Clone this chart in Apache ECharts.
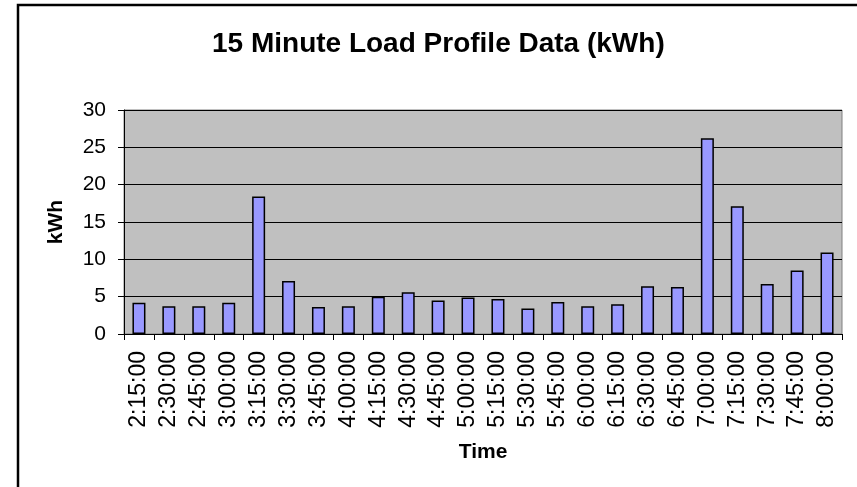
<!DOCTYPE html>
<html>
<head>
<meta charset="utf-8">
<script src="https://cdn.jsdelivr.net/npm/echarts@6/dist/echarts.min.js"></script>
<style>html,body{margin:0;padding:0;background:#fff}#c{width:857px;height:487px}</style>
</head>
<body>
<div id="c"></div>
<script>
const titleText = '15 Minute Load Profile Data (kWh)';
const yAxisName = 'kWh';
const xAxisName = 'Time';
const categories = ['2:15:00','2:30:00','2:45:00','3:00:00','3:15:00','3:30:00','3:45:00','4:00:00','4:15:00','4:30:00','4:45:00','5:00:00','5:15:00','5:30:00','5:45:00','6:00:00','6:15:00','6:30:00','6:45:00','7:00:00','7:15:00','7:30:00','7:45:00','8:00:00'];
const loadValues = [4.2,3.7,3.7,4.2,18.4,7.1,3.6,3.7,5.0,5.6,4.5,4.9,4.7,3.4,4.3,3.7,4.0,6.4,6.3,26.2,17.1,6.7,8.5,10.9];
const yMin = 0, yMax = 30, yStep = 5;

const chart = echarts.init(document.getElementById('c'), null, {renderer:'canvas'});
const font = 'Liberation Sans, Arial, Helvetica, sans-serif';
chart.setOption({
  backgroundColor: '#ffffff',
  animation: false,
  textStyle: {fontFamily: font},
  title: {
    text: titleText,
    left: 212, top: 30, padding: 0,
    textStyle: {fontFamily: font, fontSize: 28, fontWeight: 'bold', color: '#000'}
  },
  graphic: [{
    type: 'rect', silent: true, z: 100,
    shape: {x: 18, y: 5, width: 900, height: 600},
    style: {fill: 'none', stroke: '#000', lineWidth: 2.5}
  }],
  grid: {
    left: 124, right: 15, top: 110, bottom: 153,
    show: true, backgroundColor: '#C0C0C0', borderColor: '#808080', borderWidth: 1
  },
  xAxis: {
    type: 'category',
    data: categories,
    boundaryGap: true,
    name: xAxisName,
    nameLocation: 'middle',
    nameGap: 108,
    nameTextStyle: {fontFamily: font, fontSize: 21, fontWeight: 'bold', color: '#000'},
    axisLine: {lineStyle: {color: '#000', width: 1}},
    axisTick: {show: true, alignWithLabel: false, length: 6, lineStyle: {color: '#000'}},
    axisLabel: {rotate: 90, fontFamily: font, fontSize: 23, color: '#000', margin: 17, interval: 0}
  },
  yAxis: {
    type: 'value',
    min: yMin, max: yMax, interval: yStep,
    name: yAxisName,
    nameLocation: 'middle',
    nameRotate: 90,
    nameGap: 57,
    nameTextStyle: {fontFamily: font, fontSize: 21, fontWeight: 'bold', color: '#000'},
    axisLine: {show: true, lineStyle: {color: '#000', width: 1}},
    axisTick: {show: true, length: 6, lineStyle: {color: '#000'}},
    axisLabel: {fontFamily: font, fontSize: 21, color: '#000', margin: 18},
    splitLine: {show: true, lineStyle: {color: '#000', width: 1}}
  },
  series: [{
    type: 'bar',
    data: loadValues,
    barWidth: 13,
    itemStyle: {color: '#9999FF', borderColor: '#000', borderWidth: 1.5}
  }]
});
</script>
</body>
</html>
